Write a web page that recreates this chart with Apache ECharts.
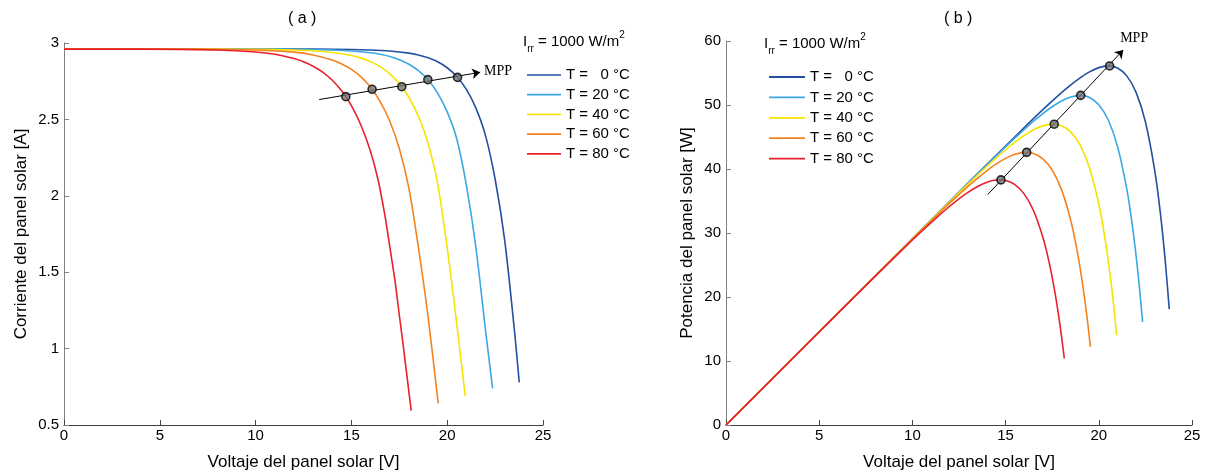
<!DOCTYPE html>
<html><head><meta charset="utf-8">
<script src="https://cdn.jsdelivr.net/npm/echarts@6/dist/echarts.min.js"></script>
<style>html,body{margin:0;padding:0;background:#fff}#c{width:1215px;height:476px}</style>
</head><body><div id="c"></div>
<script>
// ---------- data ----------
const seriesNames = ['T =   0 °C', 'T = 20 °C', 'T = 40 °C', 'T = 60 °C', 'T = 80 °C'];
const seriesColors = ['#2350a0', '#3aa8e2', '#f7e300', '#f5821f', '#e8202a'];

// panel (a): current vs voltage
const vT0  = [0,4,8,12,14,16,17,18,18.5,19,19.5,20,20.5,21,21.5,22,22.5,23,23.5,23.76];
const iT0  = [2.96,2.96,2.96,2.96,2.959,2.954,2.948,2.934,2.921,2.903,2.877,2.838,2.781,2.697,2.574,2.394,2.11,1.71,1.13,0.78];
const vT20 = [0,4,8,12,14,15,16,16.5,17,17.5,18,18.5,19,19.5,20,20.5,21,21.5,22,22.37];
const iT20 = [2.96,2.96,2.96,2.959,2.954,2.948,2.936,2.926,2.912,2.891,2.861,2.819,2.759,2.672,2.549,2.372,2.07,1.66,1.12,0.74];
const vT40 = [0,4,8,10,12,13,14,15,15.5,16,16.5,17,17.5,18,18.5,19,19.5,20,20.5,20.94];
const iT40 = [2.96,2.96,2.96,2.958,2.954,2.949,2.938,2.918,2.901,2.878,2.845,2.799,2.734,2.645,2.519,2.343,2.08,1.66,1.16,0.69];
const vT60 = [0,4,8,10,12,13,14,14.5,15,15.5,16,16.5,17,17.5,18,18.5,19,19.53];
const iT60 = [2.96,2.96,2.958,2.954,2.94,2.922,2.889,2.863,2.827,2.778,2.71,2.617,2.49,2.31,2.05,1.66,1.21,0.641];
const vT80 = [0,4,8,10,11,12,12.5,13,13.5,14,14.5,15,15.5,16,16.4,16.75,17,17.28,17.5,17.72,18.12];
const iT80 = [2.96,2.96,2.954,2.941,2.926,2.898,2.877,2.848,2.809,2.756,2.686,2.59,2.462,2.29,2.10,1.87,1.67,1.44,1.22,1.005,0.594];

// panel (b): power vs voltage
const vbT0  = [0,4,8,12,14,16,17,18,18.5,19,19.5,20,20.5,21,21.5,22,22.5,23,23.3,23.55,23.78];
const pbT0  = [0,11.64,23.28,34.92,40.72,46.47,49.27,51.92,53.15,54.25,55.18,55.84,56.11,55.77,54.55,51.97,47.38,39.78,33.18,26.12,18.1];
const vbT20 = [0,4,8,12,14,15,16,16.5,17,17.5,18,18.5,19,19.5,20,20.5,21,21.5,21.8,22.1,22.35];
const pbT20 = [0,11.64,23.28,34.90,40.66,43.48,46.19,47.46,48.66,49.73,50.62,51.25,51.50,51.18,50.03,47.69,43.58,36.90,31.18,23.78,16.1];
const vbT40 = [0,4,8,10,12,13,14,15,15.5,16,16.5,17,17.5,18,18.5,19,19.5,20,20.3,20.6,20.8,20.96];
const pbT40 = [0,11.64,23.28,29.08,34.85,37.68,40.43,43.01,44.19,45.24,46.12,46.74,47.01,46.76,45.77,43.74,40.21,34.53,29.74,23.61,18.61,14.0];
const vbT60 = [0,4,8,10,12,13,14,14.5,15,15.5,16,16.5,17,17.5,18,18.5,18.9,19.2,19.4,19.55];
const pbT60 = [0,11.64,23.27,29.04,34.68,37.34,39.75,40.79,41.66,42.29,42.59,42.42,41.59,39.83,36.78,31.91,26.22,20.60,16.07,12.2];
const vbT80 = [0,4,8,10,11,12,12.5,13,13.5,14,14.5,15,15.5,16,16.5,17,17.3,17.6,17.9,18.15];
const pbT80 = [0,11.64,23.23,28.91,31.63,34.18,35.34,36.38,37.27,37.93,38.28,38.21,37.55,36.07,33.48,29.34,25.88,21.50,16.00,10.4];

// maximum power points
const mppVa = [20.54, 18.99, 17.63, 16.08, 14.71];
const mppIa = [2.775, 2.76, 2.714, 2.697, 2.649];
const mppVb = [20.58, 19.03, 17.61, 16.13, 14.75];
const mppPb = [56.1, 51.5, 47.0, 42.6, 38.3];
// MPP arrows: [start, end] in data units
const mppArrowA = [[13.32, 2.63], [21.72, 2.808]];
const mppArrowB = [[14.04, 36.0], [21.31, 58.6]];

// axis ticks
const xTicks = {min: 0, max: 25, step: 5};
const yTicksA = {min: 0.5, max: 3, step: 0.5};
const yTicksB = {min: 0, max: 60, step: 10};

const panelTitles = ['( a )', '( b )'];
const xName = 'Voltaje del panel solar [V]';
const yNameA = 'Corriente del panel solar [A]';
const yNameB = 'Potencia del panel solar [W]';
const irrText = '{i|I}{s|rr}{i| = 1000 W/m}{p|2}';

// ---------- build ----------
const FONT = 'Liberation Sans, Arial, Helvetica, sans-serif';
const va = [vT0, vT20, vT40, vT60, vT80];
const ia = [iT0, iT20, iT40, iT60, iT80];
const vb = [vbT0, vbT20, vbT40, vbT60, vbT80];
const pb = [pbT0, pbT20, pbT40, pbT60, pbT80];
const zip = (a, b) => a.map((x, k) => [x, b[k]]);

function xAxisCfg(g) {
  return {
    gridIndex: g, type: 'value', min: xTicks.min, max: xTicks.max, interval: xTicks.step,
    axisLine: {show: true, onZero: false, lineStyle: {color: '#404040', width: 1}},
    axisTick: {show: true, inside: true, length: 5, lineStyle: {color: '#404040'}},
    axisLabel: {color: '#000', fontSize: 15, margin: 3, fontFamily: FONT},
    splitLine: {show: false},
    name: xName, nameLocation: 'middle', nameGap: 29,
    nameTextStyle: {color: '#000', fontSize: 17, fontFamily: FONT}
  };
}
function yAxisCfg(g, t, name, gap) {
  return {
    gridIndex: g, type: 'value', min: t.min, max: t.max, interval: t.step,
    axisLine: {show: true, onZero: false, lineStyle: {color: '#808080', width: 1}},
    axisTick: {show: true, inside: true, length: 5, lineStyle: {color: '#808080'}},
    axisLabel: {color: '#000', fontSize: 15, margin: 5, fontFamily: FONT},
    splitLine: {show: false},
    name: name, nameLocation: 'middle', nameGap: gap,
    nameTextStyle: {color: '#000', fontSize: 17, fontFamily: FONT}
  };
}

const series = [];
for (let g = 0; g < 2; g++) {
  for (let k = 0; k < 5; k++) {
    series.push({
      name: seriesNames[k], type: 'line', xAxisIndex: g, yAxisIndex: g,
      data: g === 0 ? zip(va[k], ia[k]) : zip(vb[k], pb[k]),
      symbol: 'none', smooth: 0.3, lineStyle: {color: seriesColors[k], width: 1.6},
      itemStyle: {color: seriesColors[k]}, animation: false, z: 2
    });
  }
  const arrow = g === 0 ? mppArrowA : mppArrowB;
  series.push({
    name: 'MPP', type: 'scatter', xAxisIndex: g, yAxisIndex: g,
    data: g === 0 ? zip(mppVa, mppIa) : zip(mppVb, mppPb),
    symbol: 'circle', symbolSize: 8,
    itemStyle: {color: '#777', borderColor: '#000', borderWidth: 1.6},
    z: 5, animation: false, silent: true,
    markLine: {
      silent: true, animation: false,
      symbol: ['none', 'arrow'], symbolSize: 8,
      lineStyle: {color: '#000', width: 1, type: 'solid'},
      label: {show: true, position: 'end', formatter: 'MPP', color: '#000',
              fontFamily: 'Liberation Serif, Times New Roman, serif', fontSize: 14,
              distance: g === 0 ? 4 : 16},
      data: [[{coord: arrow[0]}, {coord: arrow[1]}]]
    }
  });
}

const rich = {
  i: {fontSize: 15, fontFamily: FONT, color: '#000', lineHeight: 24},
  s: {fontSize: 10, fontFamily: FONT, color: '#000', lineHeight: 10, verticalAlign: 'bottom'},
  p: {fontSize: 10, fontFamily: FONT, color: '#000', lineHeight: 10, verticalAlign: 'top'}
};
const lineIcon = 'path://M0,0H40V2H0Z';
const legendData = seriesNames.map(n => ({name: n, icon: lineIcon}));

const option = {
  backgroundColor: '#fff',
  animation: false,
  grid: [
    {left: 64, right: 672, top: 43, bottom: 48},
    {left: 726, right: 23, top: 41, bottom: 50}
  ],
  xAxis: [xAxisCfg(0), xAxisCfg(1)],
  yAxis: [yAxisCfg(0, yTicksA, yNameA, 34), yAxisCfg(1, yTicksB, yNameB, 30)],
  legend: [
    {left: 522, top: 62, orient: 'vertical', itemWidth: 34, itemHeight: 16, itemGap: 3.7,
     data: legendData, selectedMode: false,
     textStyle: {fontSize: 15, color: '#000', fontFamily: FONT, lineHeight: 16}},
    {left: 764, top: 64, orient: 'vertical', itemWidth: 36, itemHeight: 16, itemGap: 4.4,
     data: legendData, selectedMode: false,
     textStyle: {fontSize: 15, color: '#000', fontFamily: FONT, lineHeight: 16}}
  ],
  graphic: [
    {type: 'text', left: 288, top: 11, style: {text: panelTitles[0], font: '16px ' + FONT, fill: '#000'}},
    {type: 'text', left: 944, top: 11, style: {text: panelTitles[1], font: '16px ' + FONT, fill: '#000'}},
    {type: 'text', left: 523, top: 30, style: {text: irrText, rich: rich}},
    {type: 'text', left: 764, top: 32, style: {text: irrText, rich: rich}}
  ],
  series: series
};

const chart = echarts.init(document.getElementById('c'), null, {renderer: 'canvas'});
chart.setOption(option);
</script>
</body></html>
